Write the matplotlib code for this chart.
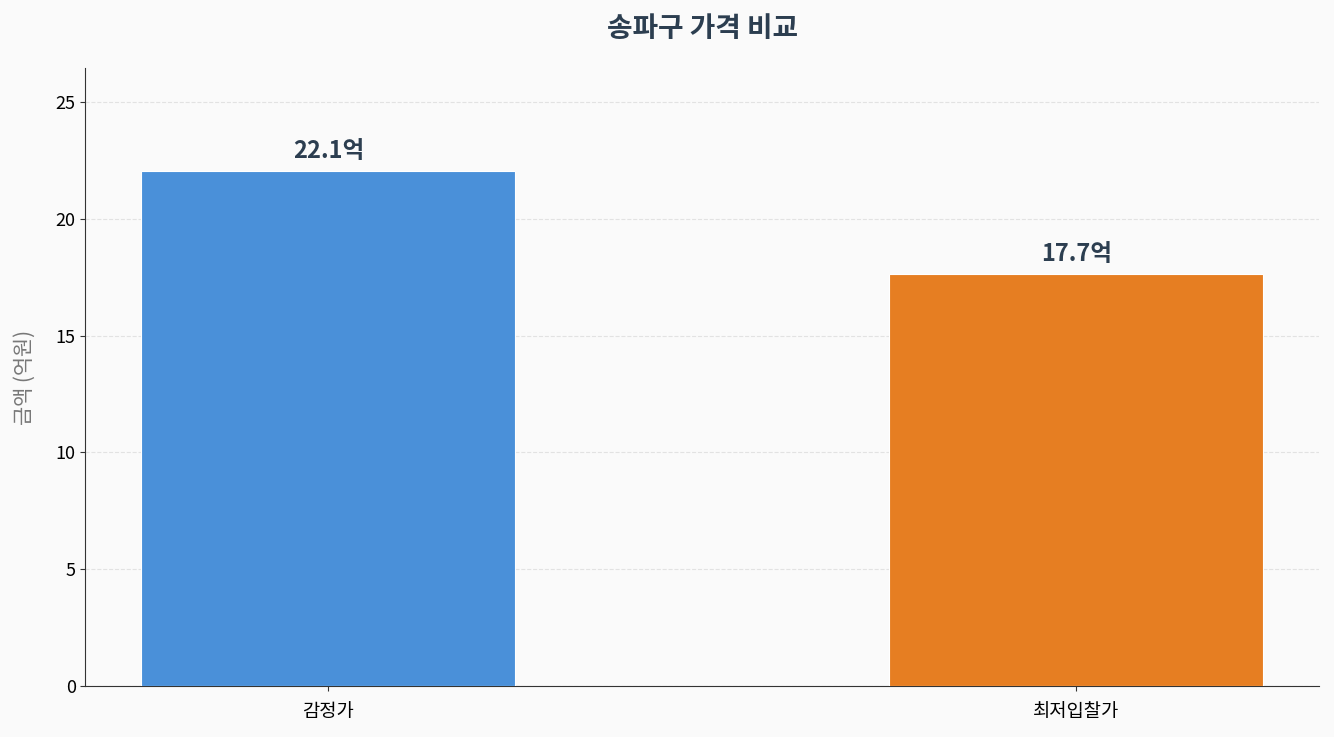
import matplotlib
matplotlib.use("Agg")
import matplotlib.pyplot as plt

categories = ["감정가", "최저입찰가"]
values = [22.05, 17.64]
labels = ["22.1억", "17.7억"]
colors = ["#4A90D9", "#E67E22"]

plt.rcParams['font.family'] = ['Noto Sans CJK KR', 'DejaVu Sans']

fig, ax = plt.subplots(figsize=(13.34, 7.37), dpi=100)
fig.patch.set_facecolor("#FAFAFA")
ax.set_facecolor("#FAFAFA")

bars = ax.bar(categories, values, width=0.5, color=colors, edgecolor="white", linewidth=0.8, zorder=3)
for b, lab in zip(bars, labels):
    ax.annotate(lab, (b.get_x() + b.get_width() / 2, b.get_height()),
                xytext=(0, 6), textcoords="offset points", ha="center", va="bottom",
                fontsize=17, fontweight="bold", color="#2C3E50")

ax.set_ylim(0, max(values) * 1.2)
ax.set_title("송파구 가격 비교", fontsize=20, fontweight="bold", color="#2C3E50", pad=22)
ax.set_ylabel("금액 (억원)", fontsize=15, color="#777777", labelpad=14)
ax.tick_params(axis="y", labelsize=13, colors="#333333", labelcolor="black")
ax.tick_params(axis="x", labelsize=13.5, colors="#333333", labelcolor="black", pad=7)
ax.yaxis.grid(True, linestyle="--", color="#DDDDDD", alpha=0.8, zorder=0)
ax.set_axisbelow(True)
for s in ["top", "right"]:
    ax.spines[s].set_visible(False)
for s in ["left", "bottom"]:
    ax.spines[s].set_color("#333333")

fig.subplots_adjust(left=0.064, right=0.989, bottom=0.069, top=0.908)
fig.savefig("out.png", dpi=100, facecolor=fig.get_facecolor())
